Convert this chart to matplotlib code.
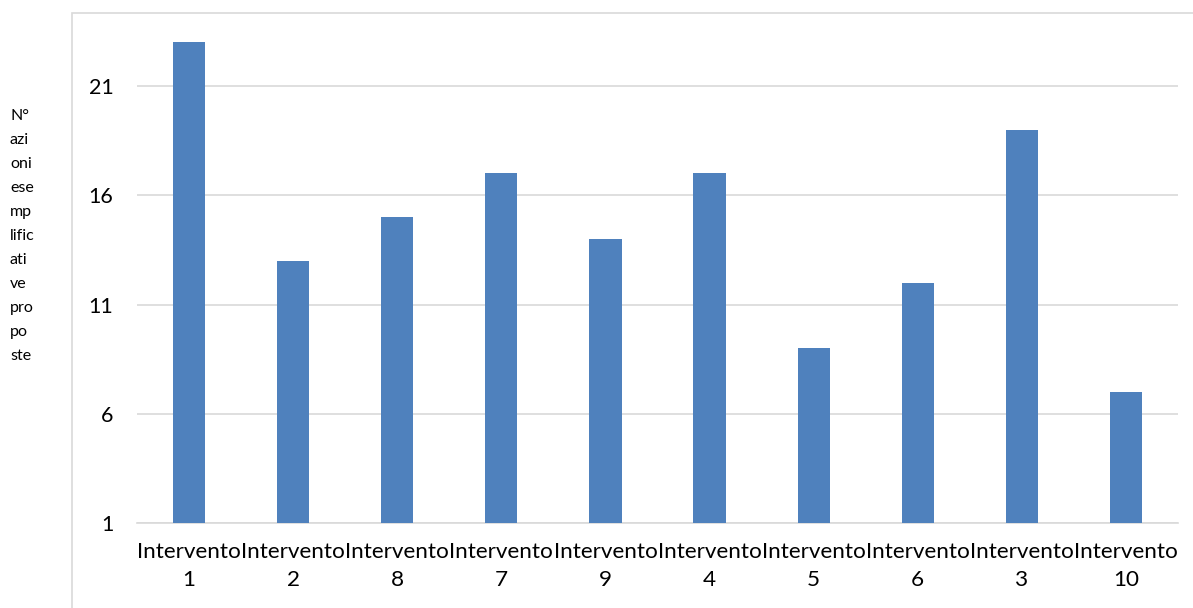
import matplotlib.pyplot as plt
from matplotlib.patches import Rectangle

categorie = ["Intervento\n1", "Intervento\n2", "Intervento\n8", "Intervento\n7", "Intervento\n9",
             "Intervento\n4", "Intervento\n5", "Intervento\n6", "Intervento\n3", "Intervento\n10"]
azioni = [23, 13, 15, 17, 14, 17, 9, 12, 19, 7]
yticks = [1, 6, 11, 16, 21]

plt.rcParams['font.family'] = ['Lato', 'DejaVu Sans']

fig = plt.figure(figsize=(11.93, 6.08), dpi=100)
ax = fig.add_axes([137 / 1193, 85 / 608, 1041 / 1193, 502.5 / 608])

# cornice del grafico (tagliata a destra e in basso)
fig.patches.append(Rectangle((72 / 1193, -0.1), 1.2, (595 / 608) + 0.1, transform=fig.transFigure,
                             fill=False, edgecolor='#D9D9D9', linewidth=1.2))

x = range(len(categorie))
# barre partono dal minimo dell'asse (1)
ax.bar(x, [v - 1 for v in azioni], bottom=1, width=0.31, color='#4F81BD', zorder=3)

ax.set_xlim(-0.5, len(categorie) - 0.5)
ax.set_ylim(1, 24)
ax.set_yticks(yticks)
ax.set_xticks(list(x))
ax.set_xticklabels(categorie, fontsize=16.2, linespacing=1.45)
ax.tick_params(axis='y', length=0, labelsize=15.5, pad=17)
ax.tick_params(axis='x', length=0, pad=14)
ax.grid(axis='y', color='#D9D9D9', linewidth=1.2, zorder=0)
for s in ['top', 'right', 'left']:
    ax.spines[s].set_visible(False)
ax.spines['bottom'].set_color('#D9D9D9')
ax.spines['bottom'].set_linewidth(1.2)

fig.text(10 / 1193, 1 - 109 / 608, "N°\nazi\noni\nese\nmp\nlific\nati\nve\npro\npo\nste",
         fontsize=11.5, va='top', ha='left', linespacing=1.91)

plt.savefig("out.png", dpi=100)
